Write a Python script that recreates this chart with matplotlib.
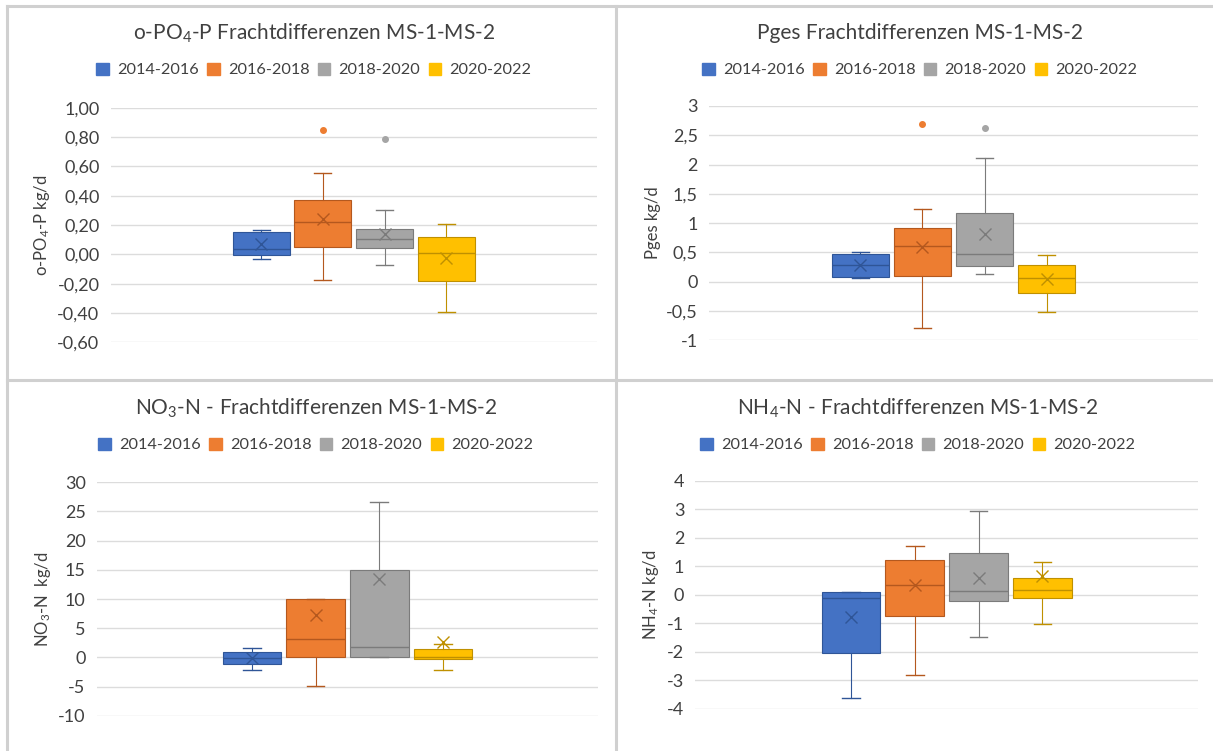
import matplotlib
matplotlib.use("Agg")
import matplotlib.pyplot as plt
from matplotlib.patches import Patch
from matplotlib.lines import Line2D
from matplotlib.ticker import FuncFormatter, MultipleLocator

plt.rcParams['font.family'] = ['Lato', 'DejaVu Sans']
plt.rcParams['mathtext.fontset'] = 'custom'
plt.rcParams['mathtext.rm'] = 'Lato'
plt.rcParams['mathtext.default'] = 'regular'

periods = ["2014-2016", "2016-2018", "2018-2020", "2020-2022"]
colors = ["#4472C4", "#ED7D31", "#A5A5A5", "#FFC000"]
dark = ["#2F5597", "#B4581E", "#7B7B7B", "#BF9000"]

# o-PO4-P (kg/d)
po4_q1 = [-0.005, 0.052, 0.043, -0.182]
po4_med = [0.039, 0.22, 0.107, 0.011]
po4_q3 = [0.155, 0.37, 0.175, 0.118]
po4_lo = [-0.034, -0.173, -0.07, -0.391]
po4_hi = [0.166, 0.557, 0.30, 0.207]
po4_mean = [0.068, 0.239, 0.141, -0.023]
po4_out = [[], [0.848], [0.784], []]

# Pges (kg/d)
pges_q1 = [0.074, 0.102, 0.262, -0.188]
pges_med = [0.279, 0.609, 0.472, 0.057]
pges_q3 = [0.472, 0.922, 1.18, 0.284]
pges_lo = [0.057, -0.79, 0.131, -0.518]
pges_hi = [0.50, 1.24, 2.12, 0.455]
pges_mean = [0.279, 0.592, 0.808, 0.046]
pges_out = [[], [2.70], [2.62], []]

# NO3-N (kg/d)
no3_q1 = [-1.2, 0.0, 0.0, -0.29]
no3_med = [-0.11, 3.09, 1.71, 0.0]
no3_q3 = [0.86, 9.94, 14.9, 1.37]
no3_lo = [-2.1, -4.86, 0.0, -2.1]
no3_hi = [1.66, 10.06, 26.6, 2.34]
no3_mean = [-0.17, 7.26, 13.37, 2.69]
no3_out = [[], [], [], []]

# NH4-N (kg/d)
nh4_q1 = [-2.05, -0.75, -0.21, -0.117]
nh4_med = [-0.117, 0.33, 0.14, 0.164]
nh4_q3 = [0.105, 1.23, 1.45, 0.60]
nh4_lo = [-3.61, -2.83, -1.49, -1.04]
nh4_hi = [0.105, 1.70, 2.95, 1.13]
nh4_mean = [-0.795, 0.35, 0.60, 0.667]
nh4_out = [[], [], [], []]

W, H = 1213, 751
fig = plt.figure(figsize=(W / 100, H / 100), dpi=100)


def px_axes(x0, y0, x1, y1):
    return fig.add_axes([x0 / W, 1 - y1 / H, (x1 - x0) / W, (y1 - y0) / H])


def comma(fmt):
    return FuncFormatter(lambda v, p: (fmt % v).replace(".", ","))


def panel(rect, title, title_xy, ylabel, q1, med, q3, lo, hi, mean, out,
          ylim, step, fmt):
    ax = px_axes(*rect)
    for i in range(4):
        stats = [dict(q1=q1[i], med=med[i], q3=q3[i], whislo=lo[i],
                      whishi=hi[i], mean=mean[i], fliers=out[i])]
        ax.bxp(stats, positions=[0.5 + 0.127 * (i - 1.5)], widths=0.117,
               capwidths=0.035, showmeans=True, patch_artist=True,
               boxprops=dict(facecolor=colors[i], edgecolor=dark[i], linewidth=0.8),
               medianprops=dict(color=dark[i], linewidth=1),
               whiskerprops=dict(color=dark[i], linewidth=0.8),
               capprops=dict(color=dark[i], linewidth=1),
               meanprops=dict(marker="x", markersize=9, markeredgecolor=dark[i],
                              markeredgewidth=1),
               flierprops=dict(marker="o", markersize=4, markerfacecolor=colors[i],
                               markeredgecolor=colors[i]))
    ax.set_xlim(0, 1)
    ax.set_ylim(*ylim)
    ax.yaxis.set_major_locator(MultipleLocator(step))
    ax.yaxis.set_major_formatter(comma(fmt))
    ax.yaxis.grid(True, color="#DCDCDC", linewidth=1)
    ax.set_axisbelow(True)
    for s in ax.spines.values():
        s.set_visible(False)
    ax.set_xticks([])
    ax.tick_params(axis="y", length=0, labelsize=13, pad=8, colors="#404040")
    ax.set_ylabel(ylabel, fontsize=12, color="#404040", labelpad=4)

    tx, ty = title_xy
    fig.text(tx / W, 1 - ty / H, title, ha="center", va="center",
             fontsize=15, color="#404040")
    handles = [Patch(facecolor=c, edgecolor=c) for c in colors]
    fig.legend(handles, periods, loc="center", ncol=4, frameon=False,
               bbox_to_anchor=(tx / W, 1 - (ty + 37) / H),
               fontsize=11.7, handlelength=0.75, handleheight=0.75,
               handletextpad=0.5, columnspacing=0.55, labelcolor="#404040")
    return ax


panel((110.6, 107.7, 597, 342.3), "o-PO$_4$-P Frachtdifferenzen MS-1-MS-2", (314, 33),
      "o-PO$_4$-P kg/d", po4_q1, po4_med, po4_q3, po4_lo, po4_hi, po4_mean, po4_out,
      (-0.6, 1.0), 0.2, "%.2f")
panel((709, 106, 1198, 340.3), "Pges Frachtdifferenzen MS-1-MS-2", (920, 33),
      "Pges kg/d", pges_q1, pges_med, pges_q3, pges_lo, pges_hi, pges_mean, pges_out,
      (-1, 3), 0.5, "%g")
panel((96.7, 482.3, 598, 715.7), "NO$_3$-N - Frachtdifferenzen MS-1-MS-2", (316, 408),
      "NO$_3$-N  kg/d", no3_q1, no3_med, no3_q3, no3_lo, no3_hi, no3_mean, no3_out,
      (-10, 30), 5, "%g")
panel((695.4, 480.7, 1198, 708.7), "NH$_4$-N - Frachtdifferenzen MS-1-MS-2", (918, 408),
      "NH$_4$-N kg/d", nh4_q1, nh4_med, nh4_q3, nh4_lo, nh4_hi, nh4_mean, nh4_out,
      (-4, 4), 1, "%g")

# panel borders (grey lines between the four charts)
border = dict(color="#D0D0D0", linewidth=2.2, transform=fig.transFigure)
fig.add_artist(Line2D([7 / W, 7 / W], [1 - 6 / H, 0], **border))
fig.add_artist(Line2D([7 / W, 1], [1 - 6 / H, 1 - 6 / H], **border))
fig.add_artist(Line2D([616 / W, 616 / W], [1 - 6 / H, 0], **border))
fig.add_artist(Line2D([7 / W, 1], [1 - 380 / H, 1 - 380 / H], **border))

fig.savefig("out.png", dpi=100, facecolor="white")
